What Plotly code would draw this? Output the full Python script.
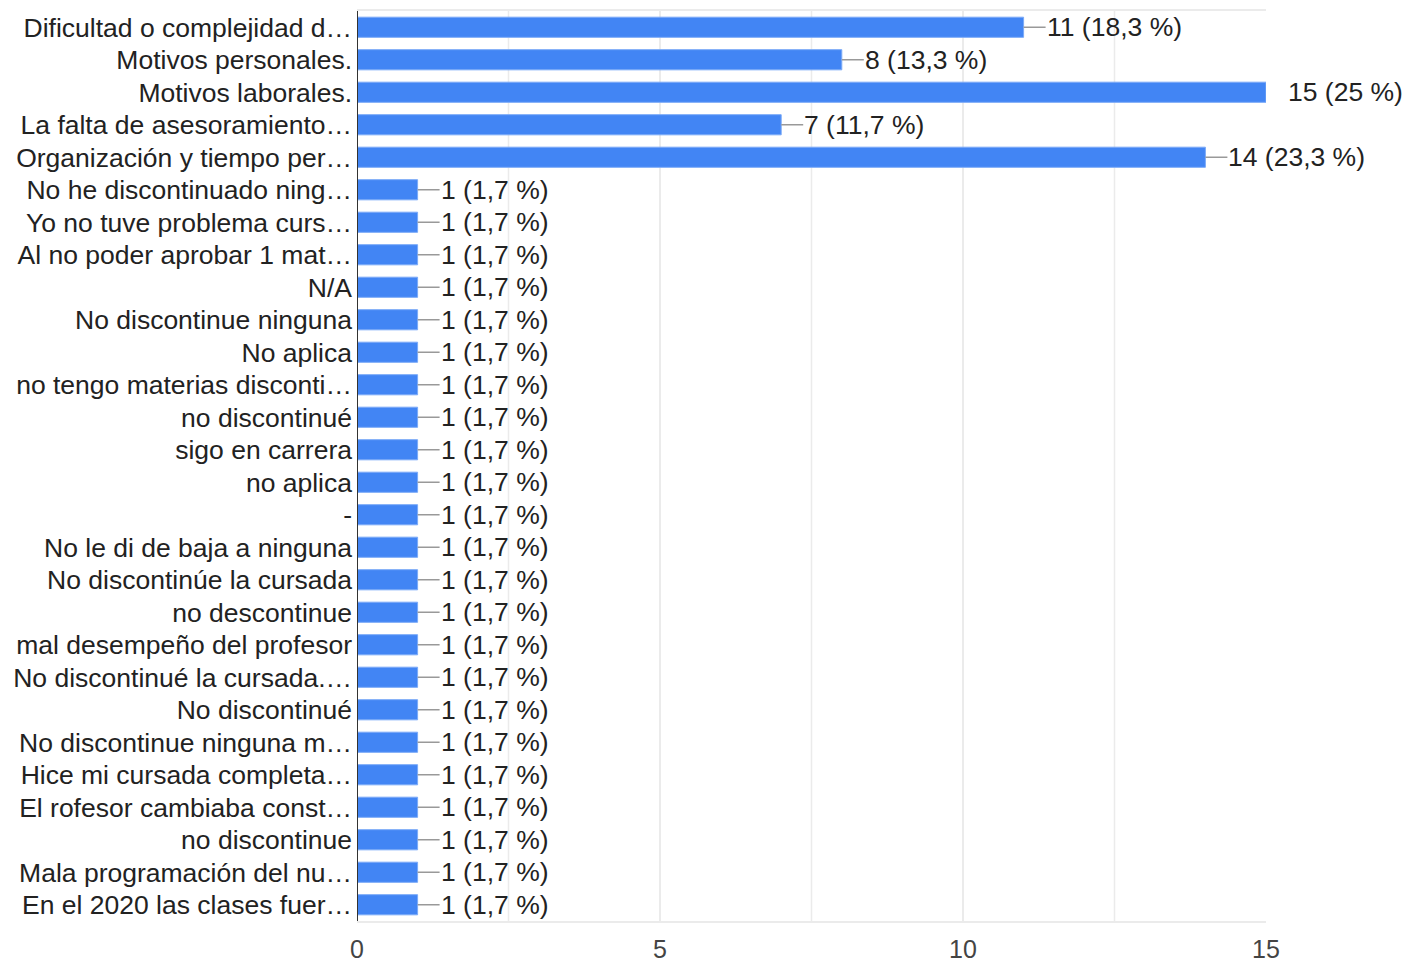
import plotly.graph_objects as go

categories = [
    "Dificultad o complejidad d…",
    "Motivos personales.",
    "Motivos laborales.",
    "La falta de asesoramiento…",
    "Organización y tiempo per…",
    "No he discontinuado ning…",
    "Yo no tuve problema curs…",
    "Al no poder aprobar 1 mat…",
    "N/A",
    "No discontinue ninguna",
    "No aplica",
    "no tengo materias disconti…",
    "no discontinué",
    "sigo en carrera",
    "no aplica",
    "-",
    "No le di de baja a ninguna",
    "No discontinúe la cursada",
    "no descontinue",
    "mal desempeño del profesor",
    "No discontinué la cursada.…",
    "No discontinué",
    "No discontinue ninguna m…",
    "Hice mi cursada completa…",
    "El rofesor cambiaba const…",
    "no discontinue",
    "Mala programación del nu…",
    "En el 2020 las clases fuer…",
]
counts = [11, 8, 15, 7, 14] + [1] * 23
pct_labels = ["18,3 %", "13,3 %", "25 %", "11,7 %", "23,3 %"] + ["1,7 %"] * 23
x_ticks = [0, 5, 10, 15]

FONT = "Liberation Sans, Arial, sans-serif"
FS = 26.5
TXT = "#222222"

fig = go.Figure()
fig.add_trace(go.Bar(
    x=counts, y=categories, orientation="h",
    marker=dict(color="#4285F4", line=dict(color="#7baaf7", width=1)),
    hoverinfo="skip",
))

annotations = []
xmax = 15
for c, v, p in zip(categories, counts, pct_labels):
    label = f"{v} ({p})"
    if v >= xmax:
        annotations.append(dict(
            x=v, y=c, xref="x", yref="y", text=label, showarrow=False,
            xanchor="left", xshift=20, font=dict(family=FONT, size=FS, color=TXT),
        ))
    else:
        annotations.append(dict(
            x=v, y=c, xref="x", yref="y", text=label, showarrow=True,
            arrowhead=0, arrowwidth=1.5, arrowcolor="#999999",
            ax=22, ay=0, xanchor="left", standoff=0, startstandoff=0,
            borderpad=0,
            font=dict(family=FONT, size=FS, color=TXT),
        ))

fig.update_layout(
    width=1406, height=962,
    margin=dict(l=357, r=140, t=11, b=41, autoexpand=False),
    paper_bgcolor="white", plot_bgcolor="white",
    bargap=0.38,
    showlegend=False,
    annotations=annotations,
    font=dict(family=FONT, size=FS, color=TXT),
    xaxis=dict(
        range=[0, 15], tickvals=x_ticks, ticktext=[str(t) for t in x_ticks],
        showgrid=True, gridcolor="#ebebeb", gridwidth=1.5,
        zeroline=False, showline=True, linecolor="#ebebeb", linewidth=2, mirror=True,
        ticks="", ticklabelstandoff=5,
        tickfont=dict(family=FONT, size=25, color="#444444"),
        fixedrange=True,
    ),
    yaxis=dict(
        autorange="reversed", showgrid=False, zeroline=False,
        showline=False, ticks="", ticklabelstandoff=4,
        tickfont=dict(family=FONT, size=FS, color=TXT),
        fixedrange=True,
    ),
)

# grid lines at 2.5 intervals (in data units)
for g in [2.5, 7.5, 12.5]:
    fig.add_vline(x=g, line=dict(color="#ebebeb", width=1.5), layer="below")
# left axis line
fig.add_vline(x=0, line=dict(color="#333333", width=2), layer="above")

fig.write_html(
    "out.html",
    config={"displayModeBar": False, "staticPlot": True},
    post_script="document.body.style.margin='0';document.body.style.overflow='hidden';",
)
